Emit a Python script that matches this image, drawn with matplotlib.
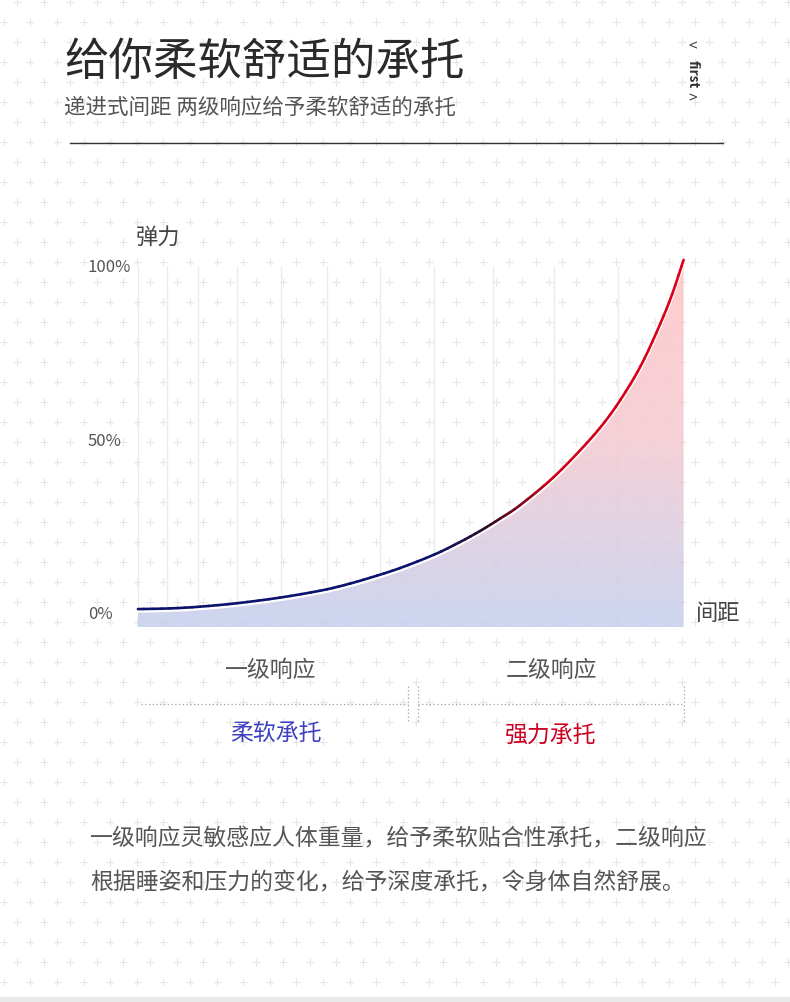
import numpy as np
import matplotlib
matplotlib.use("Agg")
import matplotlib.pyplot as plt
from matplotlib.colors import LinearSegmentedColormap
from matplotlib.patches import PathPatch
from matplotlib.path import Path
from matplotlib.transforms import ScaledTranslation

plt.rcParams['font.family'] = ['Noto Sans CJK SC', 'DejaVu Sans']

# 数据：间距(%) 与 弹力(%)
distance = [0, 5.9, 11.4, 18.2, 26.0, 33.4, 37.8, 42.5, 48.0, 54.3, 59.0,
            62.7, 66.4, 70.0, 76.1, 82.3, 86.5, 90.2, 92.8, 95.7, 97.9, 100]
elastic = [1.7, 1.9, 2.4, 3.4, 5.0, 7.0, 8.6, 10.7, 13.5, 17.4, 21.0,
           24.2, 27.8, 31.6, 39.6, 49.6, 57.6, 66.4, 73.8, 83.8, 92.4, 102.3]
grid_x = [0, 5.4, 11.1, 18.2, 26.2, 34.6, 44.4, 54.2, 65.1, 76.3, 87.9, 100]
y_ticks = [0, 50, 100]
y_tick_labels = ['0%', '50%', '100%']

title = '给你柔软舒适的承托'
subtitle = '递进式间距 两级响应给予柔软舒适的承托'
stage_names = ['一级响应', '二级响应']
stage_desc = ['柔软承托', '强力承托']
paragraph = ['一级响应灵敏感应人体重量，给予柔软贴合性承托，二级响应',
             '根据睡姿和压力的变化，给予深度承托，令身体自然舒展。']

W, H = 790, 1002
fig = plt.figure(figsize=(W / 100, H / 100), dpi=100, facecolor='white')


def px(x, y):
    return x / W, 1 - y / H


# 背景十字花纹
bg = fig.add_axes([0, 0, 1, 1], zorder=-10)
bg.set_xlim(0, W)
bg.set_ylim(H, 0)
bg.axis('off')
for k, y in enumerate(np.arange(2, H, 20)):
    x0 = 17 if k % 2 == 0 else 3.7
    xs = np.arange(x0, W + 10, 26.6)
    bg.plot(xs, np.full_like(xs, y), ls='none', marker='+', ms=5.5,
            mew=0.8, color='#e6e6e6')
bg.add_patch(plt.Rectangle((0, 997), W, 6, color='#e9e9e9', lw=0))

# 标题区
fig.text(*px(64, 62), title, fontsize=32, weight='light', color='#2a2a2a',
         va='center', ha='left')
fig.text(*px(64, 108), subtitle, fontsize=15.5, weight='light', color='#555555',
         va='center', ha='left')
fig.text(*px(693, 47), '<', fontsize=11, color='#444444', ha='center', va='center')
fig.text(*px(693, 74), 'first', fontsize=10, weight='bold', color='#333333',
         rotation=-90, ha='center', va='center')
fig.text(*px(693, 99), '>', fontsize=11, color='#444444', ha='center', va='center')
fig.add_artist(plt.Line2D([70 / W, 723 / W], [1 - 143 / H] * 2, color='#333333', lw=1))

# 曲线图
y_bottom, y_top = -3.46, 103.7
ax = fig.add_axes([137.9 / W, 1 - 627 / H, (683.6 - 137.9) / W, (627 - 255) / H])
ax.set_xlim(0, 100)
ax.set_ylim(y_bottom, y_top)
ax.patch.set_alpha(0)
ax.axis('off')

ax.vlines(grid_x, y_bottom, 100.6, color='#ebebeb', lw=1, zorder=1)

# 平滑曲线（经过各数据点的三次贝塞尔段）
pts = np.column_stack([distance, elastic])
ext = np.vstack([pts[0], pts, pts[-1]])
bez = []
for i in range(len(pts) - 1):
    p0, p1 = pts[i], pts[i + 1]
    c1 = p0 + (ext[i + 2] - ext[i]) / 6
    c2 = p1 - (ext[i + 3] - ext[i + 1]) / 6
    bez.append((p0, c1, c2, p1))

verts = [pts[0]]
codes = [Path.MOVETO]
for _, c1, c2, p1 in bez:
    verts += [c1, c2, p1]
    codes += [Path.CURVE4] * 3
curve_path = Path(verts, codes)
fill_path = Path(verts + [(100, y_bottom), (0, y_bottom), (0, y_bottom)],
                 codes + [Path.LINETO, Path.LINETO, Path.CLOSEPOLY])

fill_cmap = LinearSegmentedColormap.from_list('fill', ['#c6d1ee', '#f4cbd3', '#ffc7c7'])
grad = np.linspace(0, 1, 256).reshape(-1, 1)
im = ax.imshow(grad, aspect='auto', cmap=fill_cmap, origin='lower',
               extent=[0, 100, y_bottom, max(elastic)], alpha=0.88, zorder=2)
im.set_clip_path(fill_path, transform=ax.transData)

shift = ax.transData + ScaledTranslation(0, -1.3 / 72, fig.dpi_scale_trans)
ax.add_patch(PathPatch(curve_path, facecolor='none', edgecolor='white', lw=2.6,
                       transform=shift, zorder=3, clip_on=False))

line_cmap = LinearSegmentedColormap.from_list(
    'line', [(0, '#0b136e'), (0.54, '#0b136e'), (0.64, '#2c0a22'),
             (0.76, '#cf0018'), (1, '#dd001a')])


def split(seg, t):
    p0, c1, c2, p1 = [np.asarray(p) for p in seg]
    a, b, c = p0 + (c1 - p0) * t, c1 + (c2 - c1) * t, c2 + (p1 - c2) * t
    d, e = a + (b - a) * t, b + (c - b) * t
    f = d + (e - d) * t
    return (p0, a, d, f), (f, e, c, p1)


for seg in bez:
    pieces = []
    rest = seg
    for n in (4, 3, 2):
        first, rest = split(rest, 1 / n)
        pieces.append(first)
    pieces.append(rest)
    for p in pieces:
        col = line_cmap((p[0][0] + p[3][0]) / 200)
        ax.add_patch(PathPatch(Path(list(p), [Path.MOVETO] + [Path.CURVE4] * 3),
                               facecolor='none', edgecolor=col, lw=1.9,
                               capstyle='round', zorder=4, clip_on=False))

ytr = ax.get_yaxis_transform()
for v, lab in zip(y_ticks, y_tick_labels):
    ax.text((88 - 137.9) / (683.6 - 137.9), v, lab, transform=ytr, ha='left',
            va='center', fontsize=12, weight='light', color='#555555')

fig.text(*px(136, 237), '弹力', fontsize=16, color='#444444', ha='left', va='center')
fig.text(*px(696, 614), '间距', fontsize=16, color='#444444', ha='left', va='center')

# 两级响应
fig.text(*px(271, 670), stage_names[0], fontsize=16.5, color='#555555',
         ha='center', va='center')
fig.text(*px(551, 670), stage_names[1], fontsize=16.5, color='#555555',
         ha='center', va='center')
fig.text(*px(276, 733), stage_desc[0], fontsize=16.5, color='#3c40c0',
         ha='center', va='center')
fig.text(*px(551, 736), stage_desc[1], fontsize=16.5, color='#cc0022',
         ha='center', va='center')

dot = dict(color='#a0a0a0', lw=0.9, ls=(0, (1, 2)))
for x1, x2 in [(141, 407.5), (418, 684)]:
    fig.add_artist(plt.Line2D([x1 / W, x2 / W], [1 - 704 / H] * 2, **dot))
for xv in [407.5, 418, 684]:
    fig.add_artist(plt.Line2D([xv / W] * 2, [1 - 686 / H, 1 - 722 / H], **dot))

# 说明文字
for i, line in enumerate(paragraph):
    fig.text(*px(90, 838 + 45 * i), line, fontsize=16.5, weight='light',
             color='#555555', ha='left', va='center')

fig.savefig('out.png', dpi=100, facecolor='white')
